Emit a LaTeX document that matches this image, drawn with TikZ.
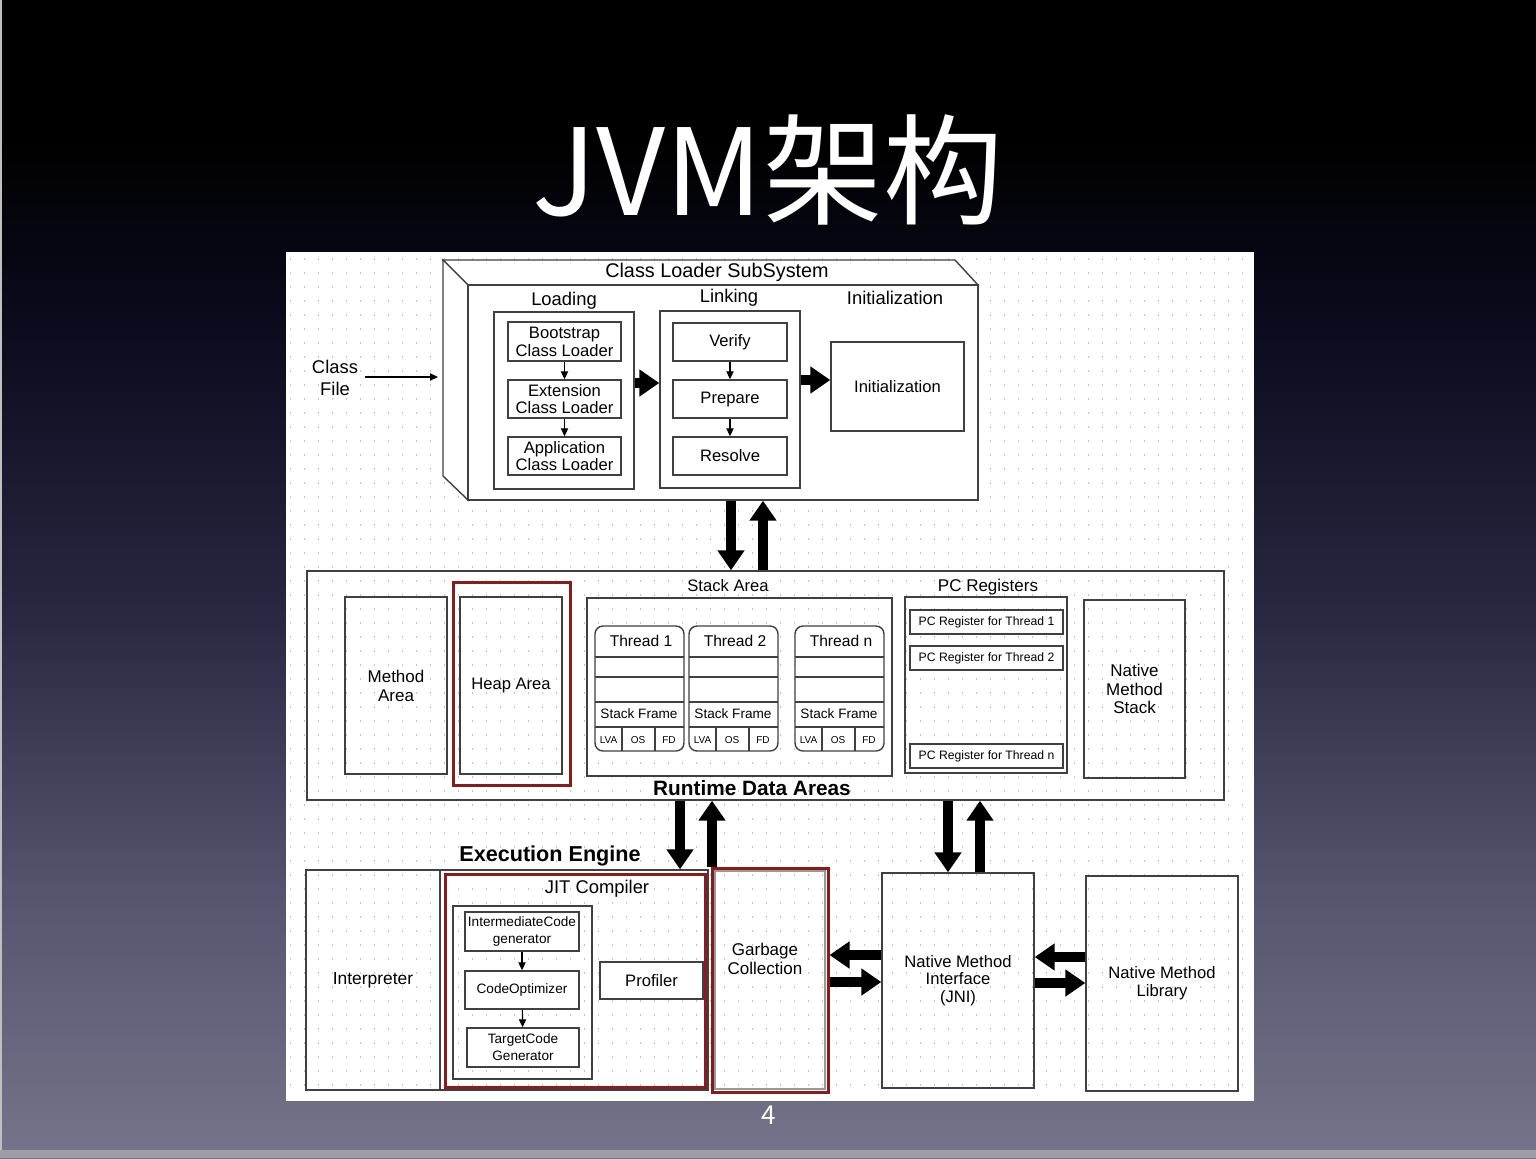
\documentclass[tikz,border=0pt]{standalone}
\usepackage{fontspec}
\setmainfont{Liberation Sans}
\newfontfamily\cjk{Noto Sans CJK SC}
\usetikzlibrary{arrows.meta}
\definecolor{jvmred}{HTML}{8B1A1C}
\definecolor{bgA}{HTML}{76748A}
\definecolor{bgB}{HTML}{575670}
\definecolor{bgC}{HTML}{262640}
\definecolor{bgD}{HTML}{09091A}
\definecolor{dotc}{HTML}{C4C4C4}
\pgfdeclareverticalshading{slidebg}{100bp}{color(0bp)=(bgA); color(25bp)=(bgA); color(36bp)=(bgB); color(49bp)=(bgC); color(62bp)=(bgD); color(69bp)=(black); color(100bp)=(black)}
\tikzset{
  area/.style n args={4}{at={({(#1+#3)/2},{(#2+#4)/2})}, minimum width={(#3-#1)*0.5pt}, minimum height={(#4-#2)*0.5pt}},
  box/.style={draw=black!75, line width=0.7pt, inner sep=0pt},
  wbox/.style={box, fill=white},
  redbox/.style={draw=jvmred, line width=1.5pt, inner sep=0pt},
  fat/.style={line width=5pt, -{Triangle[width=13pt,length=10pt]}},
  smallarr/.style={line width=0.6pt, -{Triangle[width=3.6pt,length=4pt]}},
  hd/.style={font=\fontsize{9.9}{11}\selectfont},
  sec/.style={font=\fontsize{9.2}{11}\selectfont, align=center},
  txt/.style={font=\fontsize{8.3}{8.9}\selectfont, align=center},
  big/.style={font=\bfseries\fontsize{10.4}{12}\selectfont},
  sm/.style={font=\fontsize{6.8}{8.5}\selectfont, align=center},
  pcf/.style={font=\fontsize{6.1}{7}\selectfont},
  tinyf/.style={font=\fontsize{5}{6}\selectfont}
}
\begin{document}
\begin{tikzpicture}[x=0.5pt, y=-0.5pt]
\useasboundingbox (0,0) rectangle (1536,1158);
\shade[shading=slidebg] (0,0) rectangle (1536,1158);
\fill[black!25] (0,0) rectangle (2,1158);
\fill[black!22!bgA!60!white] (0,1150) rectangle (1536,1158);
\node[text=white, font=\cjk\fontsize{60}{60}\selectfont] (title) at (768,170) {JVM架构};
\node[text=white, font=\cjk\fontsize{13}{13}\selectfont] (pg) at (769,1115) {4};

\fill[white] (286,252) rectangle (1254,1101);
\foreach \y in {259,273,...,1097}
  \draw[dotc, line width=0.7pt, dash pattern=on 0.7pt off 6.3pt] (290,\y) -- (1252,\y);

\draw[box, fill=white] (443,260) -- (955,260) -- (978,285) -- (468,285) -- cycle;
\draw[box, fill=white] (443,260) -- (468,285) -- (468,500) -- (443,476) -- cycle;
\node[wbox, area={468}{285}{978}{500}] (cls) {};
\node[hd] (clstitle) at (717,272) {Class Loader SubSystem};

\node[sec] (cf) at (335,378) {Class\\File};
\coordinate (clsin) at (438,377);
\draw[smallarr] (cf.east |- clsin) -- (clsin);

\node[sec] (loadlbl) at (564,301) {Loading};
\node[box, area={494}{312}{634}{489}] (load) {};
\node[wbox, txt, area={508}{322}{621}{361}] (boot) {Bootstrap\\Class Loader};
\node[wbox, txt, area={508}{380}{621}{418}] (ext) {Extension\\Class Loader};
\node[wbox, txt, area={508}{437}{621}{475}] (app) {Application\\Class Loader};
\draw[smallarr] (boot) -- (ext);
\draw[smallarr] (ext) -- (app);

\node[sec] (linklbl) at (729,298) {Linking};
\node[box, area={660}{311}{800}{488}] (link) {};
\node[wbox, txt, area={673}{323}{787}{361}] (verify) {Verify};
\node[wbox, txt, area={673}{380}{787}{418}] (prepare) {Prepare};
\node[wbox, txt, area={673}{437}{787}{475}] (resolve) {Resolve};
\draw[smallarr] (verify) -- (prepare);
\draw[smallarr] (prepare) -- (resolve);

\node[sec] (initlbl) at (895,298) {Initialization};
\node[wbox, txt, area={831}{342}{964}{431}] (init) {Initialization};
\coordinate (ya) at (0,383);
\coordinate (yb) at (0,380);
\draw[fat] (load.east |- ya) -- (link.west |- ya);
\draw[fat] (link.east |- yb) -- (init.west |- yb);

\node[box, area={307}{571}{1224}{800}] (rda) {};
\node[big] (rdalbl) at (752,788) {Runtime Data Areas};
\coordinate (xa) at (731,0);
\coordinate (xb) at (763,0);
\draw[fat] (cls.south -| xa) -- (rda.north -| xa);
\draw[fat] (rda.north -| xb) -- (cls.south -| xb);

\node[box, txt, font=\fontsize{8.5}{9.5}\selectfont, area={345}{597}{447}{774}] (method) {Method\\Area};
\node[redbox, area={453}{582}{570}{785}] (heapred) {};
\node[box, txt, area={460}{597}{562}{774}] (heap) {Heap Area};

\node[txt] (stacklbl) at (728,586) {Stack Area};
\node[box, area={587}{598}{892}{776}] (stack) {};
\foreach \x/\n/\t in {595/t1/1, 689/t2/2, 795/tn/n} {
  \node[wbox, rounded corners=4pt, area={\x}{626}{\x+89}{751}] (\n) {};
  \foreach \y in {657,677,702,727}
    \draw[box] (\x,\y) -- (\x+89,\y);
  \draw[box] (\x+27,727) -- (\x+27,751);
  \draw[box] (\x+60,727) -- (\x+60,751);
  \node[txt, font=\fontsize{7.8}{9}\selectfont] at (\x+46,641) {Thread \t};
  \node[sm] at (\x+44,714) {Stack Frame};
  \node[tinyf] at (\x+13.5,740) {LVA};
  \node[tinyf] at (\x+43,740) {OS};
  \node[tinyf] at (\x+74,740) {FD};
}

\node[txt, font=\fontsize{8.5}{10}\selectfont] (pclbl) at (988,587) {PC Registers};
\node[box, area={905}{597}{1067}{773}] (pc) {};
\foreach \y/\n/\t in {610/pc1/1, 646/pc2/2, 744/pcn/n}
  \node[wbox, pcf, line width=0.9pt, area={910}{\y}{1063}{\y+24}] (\n) {PC Register for Thread \t};
\node[box, txt, font=\fontsize{8.5}{9.3}\selectfont, area={1084}{600}{1185}{778}] (nms) {Native\\Method\\Stack};

\node[big, font=\bfseries\fontsize{10.8}{12}\selectfont] (eelbl) at (550,856) {Execution Engine};
\node[box, area={306}{870}{708}{1090}] (exec) {};
\node[box, txt, font=\fontsize{8.7}{10}\selectfont, area={306}{870}{440}{1090}] (interp) {Interpreter};
\node[redbox, area={445}{874}{705}{1087}] (jit) {};
\node[sec] (jitlbl) at (597,889) {JIT Compiler};
\node[box, area={453}{906}{592}{1079}] (stages) {};
\node[wbox, sm, area={465}{912}{579}{951}] (icg) {IntermediateCode\\generator};
\node[wbox, sm, area={465}{971}{579}{1009}] (opt) {CodeOptimizer};
\node[wbox, sm, area={467}{1028}{579}{1067}] (tcg) {TargetCode\\Generator};
\draw[smallarr] (icg) -- (opt);
\draw[smallarr] (opt) -- (tcg);
\node[wbox, txt, area={600}{962}{703}{999}] (prof) {Profiler};

\node[redbox, area={712}{868}{828}{1092}] (gc) {};
\node[box, draw=black!40, area={715}{871}{825}{1089}] (gcin) {};
\node[txt, font=\fontsize{8.5}{9.5}\selectfont] (gclbl) at (765,959) {Garbage\\Collection};
\node[box, txt, area={882}{873}{1034}{1088}] (jni) {Native Method\\Interface\\(JNI)};
\node[box, txt, area={1086}{876}{1238}{1091}] (lib) {Native Method\\Library};

\coordinate (xc) at (680,0);
\coordinate (xd) at (712,0);
\coordinate (xe) at (948,0);
\coordinate (xf) at (980,0);
\draw[fat] (rda.south -| xc) -- (exec.north -| xc);
\draw[fat] (gc.north -| xd) -- (rda.south -| xd);
\draw[fat] (rda.south -| xe) -- (jni.north -| xe);
\draw[fat] (jni.north -| xf) -- (rda.south -| xf);

\coordinate (ye) at (0,955);
\coordinate (yf) at (0,982);
\coordinate (yg) at (0,957);
\coordinate (yh) at (0,983);
\draw[fat] (jni.west |- ye) -- (gc.east |- ye);
\draw[fat] (gc.east |- yf) -- (jni.west |- yf);
\draw[fat] (lib.west |- yg) -- (jni.east |- yg);
\draw[fat] (jni.east |- yh) -- (lib.west |- yh);
\end{tikzpicture}
\end{document}
